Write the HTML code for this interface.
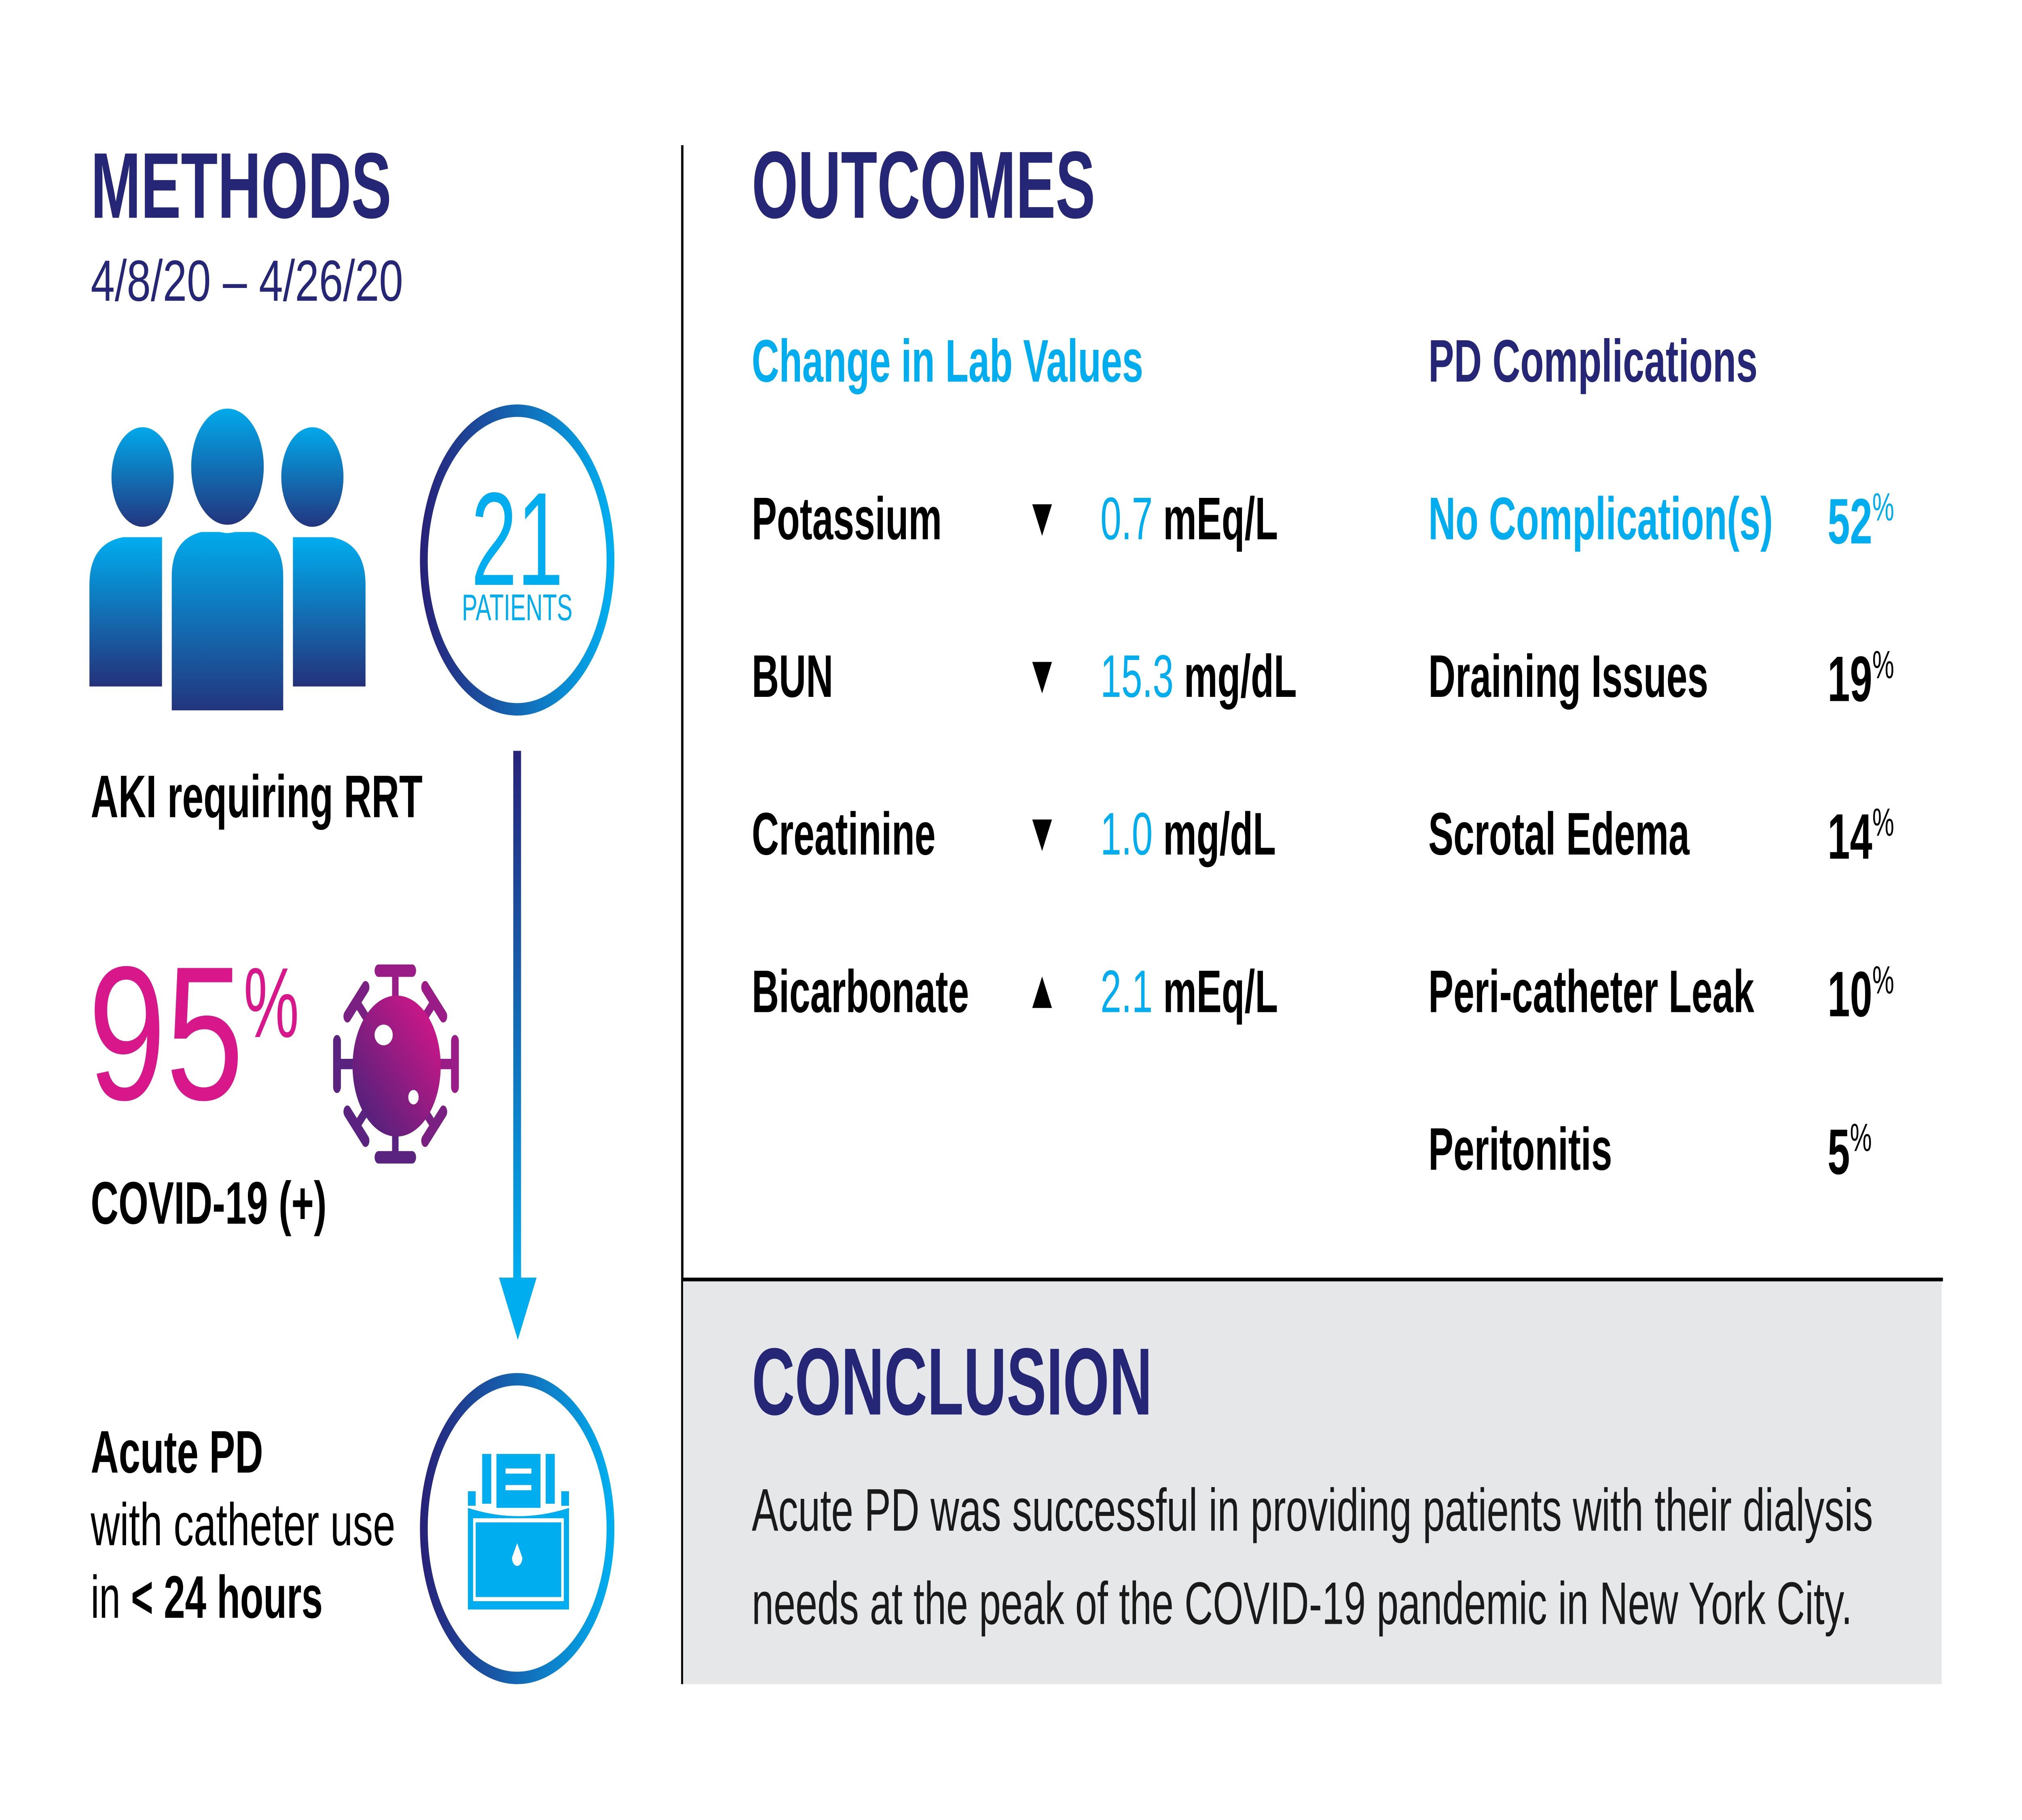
<!DOCTYPE html>
<html><head><meta charset="utf-8">
<style>
html,body{margin:0;padding:0;background:#fff;overflow:hidden;width:100vw;height:100vh;}
svg{display:block;width:100vw;height:100vh;}
text{font-family:"Liberation Sans",Arial,sans-serif;}
</style></head>
<body>
<svg id="main" viewBox="0 0 1560 877.5" preserveAspectRatio="none" xmlns="http://www.w3.org/2000/svg">
<defs>
  <linearGradient id="ppl" x1="0" y1="0" x2="0" y2="1"><stop offset="0" stop-color="#00aeef"/><stop offset="1" stop-color="#24317a"/></linearGradient>
  <linearGradient id="ring" x1="0" y1="0" x2="1" y2="0"><stop offset="0" stop-color="#27237a"/><stop offset="1" stop-color="#00aeef"/></linearGradient>
  <linearGradient id="arr" x1="0" y1="0" x2="0" y2="1"><stop offset="0" stop-color="#27237a"/><stop offset="1" stop-color="#00aeef"/></linearGradient>
  <linearGradient id="vir" x1="0" y1="1" x2="1" y2="0"><stop offset="0" stop-color="#3f2379"/><stop offset="1" stop-color="#e0158a"/></linearGradient>
</defs>
<rect width="1560" height="877.5" fill="#fff"/>

<text x="70" y="105" font-size="45" font-weight="bold" fill="#262677" textLength="232" lengthAdjust="spacingAndGlyphs">METHODS</text>
<text x="70" y="145" font-size="28" fill="#262677" textLength="241" lengthAdjust="spacingAndGlyphs">4/8/20 – 4/26/20</text>

<g fill="url(#ppl)">
  <path d="M69 331 V282 Q69 262 95 259 L125 259 V331 Z"/>
  <path d="M282 331 V282 Q282 262 256 259 L226 259 V331 Z"/>
  <path d="M130 345 V278 Q130 258 155 254 L196 254 Q221 258 221 278 V345 Z" stroke="#fff" stroke-width="5"/>
  <circle cx="110" cy="230" r="26" stroke="#fff" stroke-width="4"/>
  <circle cx="241" cy="230" r="26" stroke="#fff" stroke-width="4"/>
  <circle cx="175.5" cy="225" r="30" stroke="#fff" stroke-width="4"/>
</g>

<g>
  <circle cx="399" cy="270" r="72" fill="none" stroke="url(#ring)" stroke-width="6"/>
  <text x="399" y="282" font-size="64" fill="#00aeef" text-anchor="middle">21</text>
  <text x="399" y="299" font-size="18" fill="#00aeef" text-anchor="middle">PATIENTS</text>
</g>

<g>
  <rect x="396" y="362" width="6" height="256" fill="url(#arr)"/>
  <polygon points="385,616 414,616 399.5,646" fill="#00aeef"/>
</g>

<text x="70" y="394" font-size="29" font-weight="bold" fill="#000" textLength="256" lengthAdjust="spacingAndGlyphs">AKI requiring RRT</text>

<text x="68" y="530" font-size="92" fill="#d8178b" textLength="120" lengthAdjust="spacingAndGlyphs">95</text>
<text x="188" y="500" font-size="48" fill="#d8178b">%</text>

<g>
  <g stroke-linecap="round">
    <g stroke="#9a1c86">
      <line x1="305" y1="513" x2="305" y2="468" stroke-width="5"/><line x1="292" y1="468" x2="318" y2="468" stroke-width="6"/>
      <line x1="305" y1="513" x2="351" y2="513" stroke-width="5"/><line x1="351" y1="502" x2="351" y2="524" stroke-width="6"/>
      <line x1="305" y1="513" x2="335" y2="483" stroke-width="5"/><line x1="328" y1="476" x2="342" y2="490" stroke-width="6"/>
    </g>
    <g stroke="#5a2380">
      <line x1="305" y1="513" x2="305" y2="558" stroke-width="5"/><line x1="292" y1="558" x2="318" y2="558" stroke-width="6"/>
      <line x1="305" y1="513" x2="260" y2="513" stroke-width="5"/><line x1="260" y1="502" x2="260" y2="524" stroke-width="6"/>
      <line x1="305" y1="513" x2="275" y2="543" stroke-width="5"/><line x1="268" y1="536" x2="282" y2="550" stroke-width="6"/>
    </g>
    <g stroke="#7a2083">
      <line x1="305" y1="513" x2="275" y2="483" stroke-width="5"/><line x1="268" y1="490" x2="282" y2="476" stroke-width="6"/>
      <line x1="305" y1="513" x2="335" y2="543" stroke-width="5"/><line x1="328" y1="550" x2="342" y2="536" stroke-width="6"/>
    </g>
  </g>
  <circle cx="306" cy="514" r="34" fill="url(#vir)"/>
  <ellipse cx="296" cy="499" rx="7" ry="5" fill="#fff"/>
  <ellipse cx="319" cy="529" rx="4" ry="3.5" fill="#fff"/>
</g>

<text x="70" y="590" font-size="29" font-weight="bold" fill="#000" textLength="182" lengthAdjust="spacingAndGlyphs">COVID-19 (+)</text>

<text x="70" y="710" font-size="29" font-weight="bold" fill="#000" textLength="133" lengthAdjust="spacingAndGlyphs">Acute PD</text>
<text x="70" y="745" font-size="29" fill="#000" textLength="235" lengthAdjust="spacingAndGlyphs">with catheter use</text>
<text x="70" y="780" font-size="29" fill="#000" textLength="179" lengthAdjust="spacingAndGlyphs">in <tspan font-weight="bold">&lt; 24 hours</tspan></text>

<g>
  <circle cx="399" cy="737" r="72" fill="none" stroke="url(#ring)" stroke-width="6"/>
  <g fill="#00aeef">
    <rect x="372" y="701" width="7" height="24"/>
    <rect x="421" y="701" width="7" height="24"/>
    <rect x="383" y="701" width="34" height="26"/>
    <rect x="390" y="708" width="20" height="2.5" fill="#fff"/>
    <rect x="390" y="716" width="20" height="2.5" fill="#fff"/>
    <rect x="361" y="719" width="6" height="7"/>
    <rect x="433" y="719" width="6" height="7"/>
    <path d="M361 727 Q400 735 439 727 V776 H361 Z"/>
    <rect x="366" y="733" width="68" height="38" fill="none" stroke="#fff" stroke-width="2"/>
    <path d="M399 744 L403 751 A4 4 0 1 1 395 751 Z" fill="#fff"/>
  </g>
</g>

<rect x="525.5" y="70" width="1.8" height="742" fill="#000"/>

<text x="580" y="105" font-size="46" font-weight="bold" fill="#262677" textLength="265" lengthAdjust="spacingAndGlyphs">OUTCOMES</text>
<text x="580" y="184" font-size="29" font-weight="bold" fill="#00aeef" textLength="302" lengthAdjust="spacingAndGlyphs">Change in Lab Values</text>
<text x="1102" y="184" font-size="29" font-weight="bold" fill="#262677" textLength="254" lengthAdjust="spacingAndGlyphs">PD Complications</text>
<g id="labRows"></g>
<g id="compRows"></g>

<rect x="527" y="617" width="971" height="195" fill="#e6e7e9"/>
<rect x="526" y="616" width="973" height="1.8" fill="#000"/>
<text x="580" y="682" font-size="46" font-weight="bold" fill="#262677" textLength="309" lengthAdjust="spacingAndGlyphs">CONCLUSION</text>
<text x="580" y="738" font-size="29" fill="#1a1a1a" textLength="865" lengthAdjust="spacingAndGlyphs">Acute PD was successful in providing patients with their dialysis</text>
<text x="580" y="783" font-size="29" fill="#1a1a1a" textLength="849" lengthAdjust="spacingAndGlyphs">needs at the peak of the COVID-19 pandemic in New York City.</text>
</svg>
<script>
const labNames = ["Potassium", "BUN", "Creatinine", "Bicarbonate"];
const labDirections = ["down", "down", "down", "up"];
const labValues = ["0.7", "15.3", "1.0", "2.1"];
const labUnits = ["mEq/L", "mg/dL", "mg/dL", "mEq/L"];
const compNames = ["No Complication(s)", "Draining Issues", "Scrotal Edema", "Peri-catheter Leak", "Peritonitis"];
const compPercents = [52, 19, 14, 10, 5];

const NS = "http://www.w3.org/2000/svg";
function rowY(i){ return 260 + i * 76; }
function mk(tag, attrs, txt){
  const e = document.createElementNS(NS, tag);
  for (const k in attrs) e.setAttribute(k, attrs[k]);
  if (txt !== undefined) e.textContent = txt;
  return e;
}
const lab = document.getElementById('labRows');
labNames.forEach((n, i) => {
  const y = rowY(i);
  const t = mk('text', {x: 580, y: y, 'font-size': 29, 'font-weight': 'bold', fill: '#000'}, n);
  
  
  lab.appendChild(t);
  const a = mk('text', {x: 804, y: y - 2, 'font-size': 26, fill: '#000', 'text-anchor': 'middle', 'font-family': 'DejaVu Sans, sans-serif'}, labDirections[i] === 'up' ? '▲' : '▼');
  
  
  lab.appendChild(a);
  const v = mk('text', {x: 849, y: y, 'font-size': 29, 'font-weight': 'bold', fill: '#000'});
  
  
  v.appendChild(mk('tspan', {fill: '#00aeef', 'font-weight': 'normal'}, labValues[i]));
  v.appendChild(mk('tspan', {}, ' ' + labUnits[i]));
  lab.appendChild(v);
});
const comp = document.getElementById('compRows');
compNames.forEach((n, i) => {
  const y = rowY(i);
  const col = i === 0 ? '#00aeef' : '#000';
  const t = mk('text', {x: 1102, y: y, 'font-size': 29, 'font-weight': 'bold', fill: col}, n);
  
  
  comp.appendChild(t);
  const p = mk('text', {x: 1410, y: y + 2, 'font-size': 31, 'font-weight': 'bold', fill: col});
  
  
  p.appendChild(mk('tspan', {}, String(compPercents[i])));
  p.appendChild(mk('tspan', {'font-size': 19, dy: -11, 'font-weight': 'normal'}, '%'));
  comp.appendChild(p);
});
</script>
</body></html>
